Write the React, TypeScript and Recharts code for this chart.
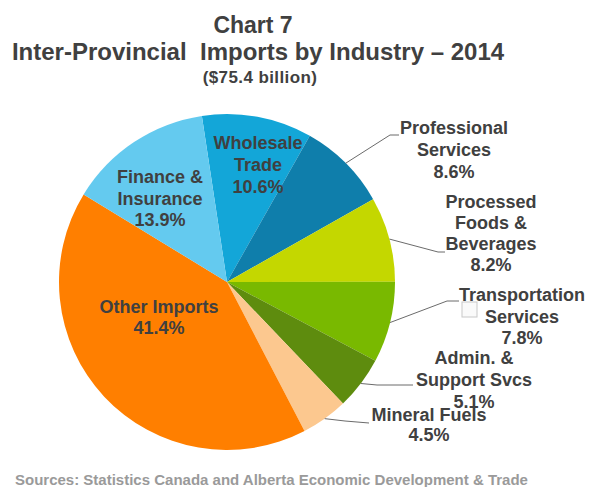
import { PieChart, Pie, Cell } from "recharts";

const industries = [
  "Wholesale Trade",
  "Professional Services",
  "Processed Foods & Beverages",
  "Transportation Services",
  "Admin. & Support Svcs",
  "Mineral Fuels",
  "Other Imports",
  "Finance & Insurance",
];
const shares = [10.6, 8.6, 8.2, 7.8, 5.1, 4.5, 41.4, 13.9];
const labelLines = [
  ["Wholesale", "Trade", "10.6%"],
  ["Professional", "Services", "8.6%"],
  ["Processed", "Foods &", "Beverages", "8.2%"],
  ["Transportation", "Services", "7.8%"],
  ["Admin. &", "Support Svcs", "5.1%"],
  ["Mineral Fuels", "4.5%"],
  ["Other Imports", "41.4%"],
  ["Finance &", "Insurance", "13.9%"],
];
const colors = [
  "#13a6d8",
  "#0f7eab",
  "#c4d700",
  "#79b900",
  "#5e8c0e",
  "#fcc88f",
  "#ff7f00",
  "#64caef",
];

const data = industries.map((name, i) => ({ name, value: shares[i] }));

// label placement relative to pie centre: text x, first line y, line gap,
// and optional leader line elbow points
const layout: Record<string, { tx: number; ty: number; gap: number; leader?: number[][]; box?: boolean }> = {
  "Wholesale Trade": { tx: 31, ty: -139, gap: 22 },
  "Professional Services": { tx: 227, ty: -154, gap: 22, leader: [[163, -147], [172, -147]] },
  "Processed Foods & Beverages": { tx: 264, ty: -80, gap: 21, leader: [[211, -30], [218, -30]] },
  "Transportation Services": { tx: 295, ty: 13, gap: 21.5, leader: [[220, 19], [232, 19]], box: true },
  "Admin. & Support Svcs": { tx: 247, ty: 76, gap: 22, leader: [[150, 103], [186, 103]] },
  "Mineral Fuels": { tx: 202, ty: 133, gap: 20, leader: [[118, 139], [142, 141]] },
  "Other Imports": { tx: -68, ty: 25, gap: 21 },
  "Finance & Insurance": { tx: -67, ty: -105, gap: 21.5 },
};

const RAD = Math.PI / 180;
const FONT = "'Liberation Sans', Arial, sans-serif";

const renderLabel = (props: any) => {
  const { cx, cy, midAngle, outerRadius, index } = props;
  const name = industries[index];
  const cfg = layout[name];
  const lines = labelLines[index];
  let leader = null;
  if (cfg.leader) {
    const sx = cx + outerRadius * Math.cos(-midAngle * RAD);
    const sy = cy + outerRadius * Math.sin(-midAngle * RAD);
    const pts = [[sx, sy], ...cfg.leader.map(([x, y]) => [cx + x, cy + y])];
    leader = (
      <polyline
        points={pts.map((p) => p.join(",")).join(" ")}
        fill="none"
        stroke="#6b6b6b"
        strokeWidth={1}
      />
    );
  }
  return (
    <g key={name}>
      {leader}
      {cfg.box && (
        <rect x={cx + 235} y={cy + 20} width={15} height={15} fill="#fafafa" stroke="#c8c8c8" strokeWidth={1} />
      )}
      <text
        x={cx + cfg.tx}
        y={cy + cfg.ty}
        textAnchor="middle"
        fill="#404040"
        fontFamily={FONT}
        fontWeight="bold"
        fontSize={18}
      >
        {lines.map((l, i) => (
          <tspan key={i} x={cx + cfg.tx} y={cy + cfg.ty + i * cfg.gap} dominantBaseline="central">
            {l}
          </tspan>
        ))}
      </text>
    </g>
  );
};

export default function App() {
  return (
    <div style={{ position: "absolute", left: 0, top: 0, width: 600, height: 487, background: "#fff" }}>
      <div style={{ position: "absolute", left: 0, top: 0 }}>
        <PieChart width={600} height={487} margin={{ top: 0, right: 0, bottom: 0, left: 0 }}>
          <Pie
            data={data}
            dataKey="value"
            nameKey="name"
            cx={227}
            cy={282}
            outerRadius={168}
            startAngle={98.6}
            endAngle={-261.4}
            stroke="none"
            label={renderLabel}
            labelLine={false}
            isAnimationActive={false}
          >
            {data.map((d, i) => (
              <Cell key={d.name} fill={colors[i]} />
            ))}
          </Pie>
        </PieChart>
      </div>
      <svg
        width={600}
        height={487}
        style={{ position: "absolute", left: 0, top: 0, pointerEvents: "none" }}
        fontFamily={FONT}
        fontWeight="bold"
      >
        <text x={253} y={33} textAnchor="middle" fontSize={23} fill="#404040">
          Chart 7
        </text>
        <text x={258} y={60} textAnchor="middle" fontSize={24} fill="#404040" style={{ whiteSpace: "pre" }}>
          {"Inter-Provincial  Imports by Industry – 2014"}
        </text>
        <text x={260} y={83} textAnchor="middle" fontSize={17} letterSpacing={0.4} fill="#404040">
          ($75.4 billion)
        </text>
        <text x={15} y={485} fontSize={15} fill="#9a9a9a">
          Sources: Statistics Canada and Alberta Economic Development &amp; Trade
        </text>
      </svg>
    </div>
  );
}
